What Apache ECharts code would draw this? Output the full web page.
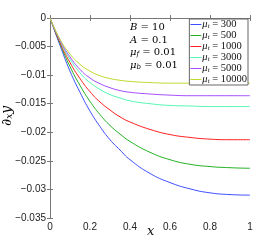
<!DOCTYPE html>
<html><head><meta charset="utf-8">
<script src="https://cdn.jsdelivr.net/npm/echarts@6/dist/echarts.min.js"></script>
<style>html,body{margin:0;padding:0;background:#fff}#c{width:263px;height:246px}</style>
</head><body><div id="c"></div>
<script>
const xs = [0, 0.05, 0.1, 0.15, 0.2, 0.25, 0.3, 0.35, 0.4, 0.5, 0.6, 0.7, 0.8, 0.9, 1];
const mu300   = [0, -0.0048, -0.0093, -0.0130, -0.0163, -0.0190, -0.0213, -0.0231, -0.0248, -0.0272, -0.0288, -0.0299, -0.0306, -0.0309, -0.0310];
const mu500   = [0, -0.0045, -0.0085, -0.0118, -0.0146, -0.0169, -0.0188, -0.0203, -0.0216, -0.0235, -0.0248, -0.0256, -0.0260, -0.0262, -0.0263];
const mu1000  = [0, -0.0043, -0.0078, -0.0106, -0.0129, -0.0147, -0.0161, -0.0173, -0.0182, -0.0195, -0.0204, -0.0209, -0.0212, -0.0213, -0.0213];
const mu3000  = [0, -0.0040, -0.0072, -0.0096, -0.0113, -0.0125, -0.0134, -0.0140, -0.0145, -0.0150, -0.0153, -0.0154, -0.0155, -0.0155, -0.0155];
const mu5000  = [0, -0.0039, -0.0068, -0.0090, -0.0105, -0.0115, -0.0122, -0.0127, -0.0130, -0.0133, -0.0135, -0.0136, -0.0136, -0.0136, -0.0136];
const mu10000 = [0, -0.0037, -0.0063, -0.0081, -0.0093, -0.0101, -0.0106, -0.0109, -0.0111, -0.0113, -0.0114, -0.0114, -0.0114, -0.0114, -0.0114];
const seriesNames = ['300', '500', '1000', '3000', '5000', '10000'];
const seriesVals = [mu300, mu500, mu1000, mu3000, mu5000, mu10000];
const colors = ['#3c50ff', '#22b022', '#ff2020', '#55f5b5', '#a64dff', '#c0d830'];
const xTicks = [0, 0.2, 0.4, 0.6, 0.8, 1];
const yTicks = [0, -0.005, -0.01, -0.015, -0.02, -0.025, -0.03, -0.035];

const chart = echarts.init(document.getElementById('c'), null, {renderer: 'canvas'});
const axisColor = '#777';
const serif = '"DejaVu Serif", "Liberation Serif", serif';
const lserif = '"Liberation Serif", "DejaVu Serif", serif';
const sans = '"Liberation Sans", Arial, sans-serif';
const fmtY = v => { const s = String(+v.toFixed(3)); return s.replace('-', '\u2212'); };
const fmtX = v => String(+v.toFixed(1));
const rich = {
  i: {fontFamily: serif, fontStyle: 'italic', fontSize: 10, color: '#111'},
  s: {fontFamily: serif, fontStyle: 'italic', fontSize: 7, color: '#111', verticalAlign: 'bottom', padding: [4, 0, 0, 0]},
  n: {fontFamily: serif, fontSize: 10, color: '#111'}
};
const lrich = {
  i: {fontFamily: lserif, fontStyle: 'italic', fontSize: 10.5, lineHeight: 9.5, color: '#111'},
  s: {fontFamily: lserif, fontStyle: 'italic', fontSize: 7, lineHeight: 9.5, color: '#111', verticalAlign: 'bottom', padding: [3, 0, 0, 0]},
  n: {fontFamily: lserif, fontSize: 10.5, lineHeight: 9.5, color: '#111'}
};
chart.setOption({
  animation: false,
  grid: {left: 50, right: 13, top: 18, bottom: 28, show: false},
  xAxis: [{
    type: 'value', min: 0, max: 1, interval: 0.2,
    axisLine: {show: true, lineStyle: {color: axisColor}},
    axisTick: {inside: true, length: 3, lineStyle: {color: axisColor}},
    axisLabel: {fontFamily: sans, fontSize: 10, color: '#222', margin: 4, formatter: fmtX},
    splitLine: {show: false}
  }, {
    type: 'value', min: 0, max: 1, interval: 0.2, position: 'top',
    axisLine: {show: true, lineStyle: {color: axisColor}},
    axisTick: {inside: true, length: 3, lineStyle: {color: axisColor}},
    axisLabel: {show: false}, splitLine: {show: false}
  }],
  yAxis: [{
    type: 'value', min: -0.035, max: 0, interval: 0.005,
    axisLine: {show: true, lineStyle: {color: axisColor}},
    axisTick: {inside: true, length: 3, lineStyle: {color: axisColor}},
    axisLabel: {fontFamily: sans, fontSize: 10, color: '#222', margin: 4, formatter: fmtY},
    splitLine: {show: false}
  }, {
    type: 'value', min: -0.035, max: 0, interval: 0.005, position: 'right',
    axisLine: {show: true, lineStyle: {color: axisColor}},
    axisTick: {inside: true, length: 3, lineStyle: {color: axisColor}},
    axisLabel: {show: false}, splitLine: {show: false}
  }],
  legend: {
    right: 15, top: 19, orient: 'vertical',
    backgroundColor: '#fff', borderColor: '#666', borderWidth: 1,
    padding: [0, 1, 0, 1], itemGap: 0, itemWidth: 11, itemHeight: 9.5,
    data: seriesNames.map(n => ({name: n, icon: 'path://M0,4.5L11,4.5L11,5.5L0,5.5Z'})),
    formatter: n => '{i|\u03bc}{s|t}{n| = ' + n + '}',
    textStyle: {rich: lrich, lineHeight: 9.5, padding: [0, 0, 0, -4]}
  },
  graphic: [
    {type: 'text', left: 130, top: 22, style: {rich: rich, text: '{i|B}{n| = 10}'}},
    {type: 'text', left: 130, top: 35, style: {rich: rich, text: '{i|A}{n| = 0.1}'}},
    {type: 'text', left: 130, top: 47, style: {rich: rich, text: '{i|\u03bc}{s|f}{n| = 0.01}'}},
    {type: 'text', left: 130, top: 60, style: {rich: rich, text: '{i|\u03bc}{s|b}{n| = 0.01}'}},
    {type: 'text', left: 147, top: 225, style: {text: 'x', fontFamily: serif, fontStyle: 'italic', fontSize: 13, fill: '#111'}},
    {type: 'text', x: 7, y: 116, rotation: Math.PI / 2,
      style: {align: 'center', verticalAlign: 'middle', rich: {
        d: {fontFamily: serif, fontStyle: 'italic', fontSize: 14, color: '#111'},
        s: {fontFamily: serif, fontStyle: 'italic', fontSize: 9, color: '#111', verticalAlign: 'bottom', padding: [6, 0, 0, 0]}
      }, text: '{d|\u2202}{s|x}{d|y}'}}
  ],
  series: seriesVals.map((vals, k) => ({
    name: seriesNames[k], type: 'line', smooth: true, symbol: 'none',
    color: colors[k], lineStyle: {width: 1, color: colors[k]},
    data: xs.map((x, i) => [x, vals[i]])
  }))
});
</script></body></html>
